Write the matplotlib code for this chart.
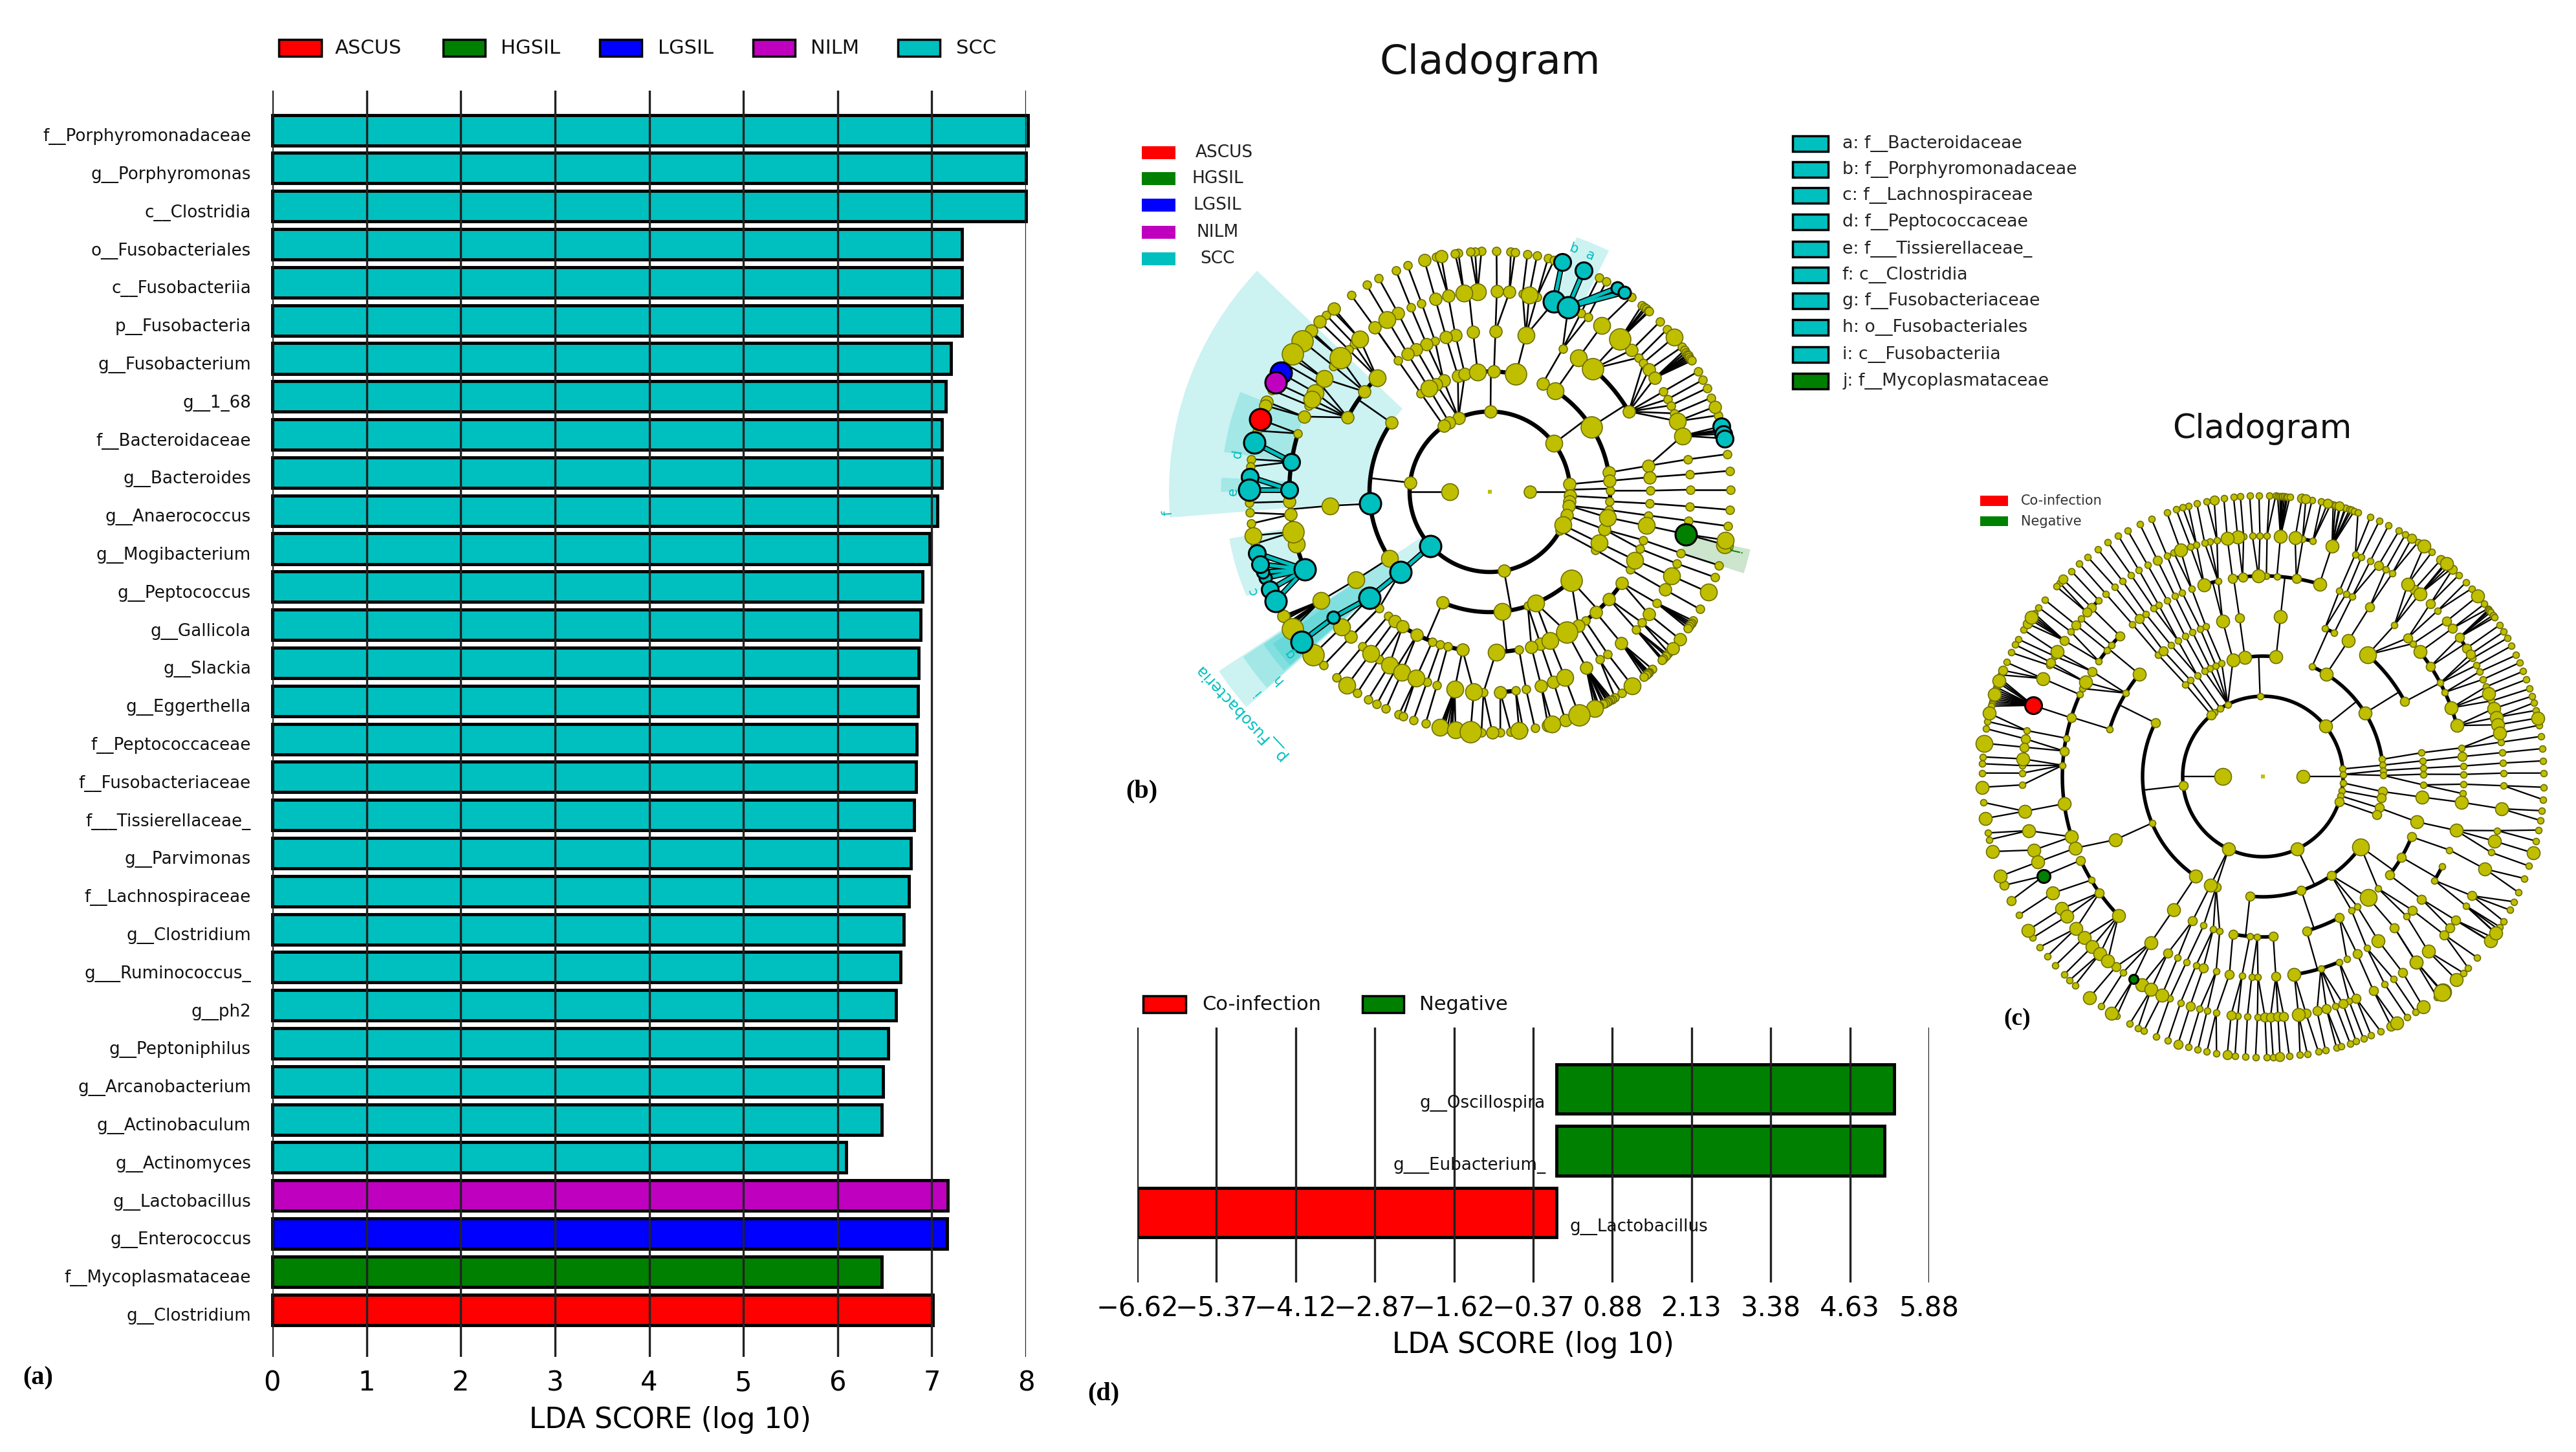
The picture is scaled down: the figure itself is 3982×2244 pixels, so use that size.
import matplotlib
matplotlib.use('Agg')
import matplotlib.pyplot as plt
import numpy as np
from matplotlib.patches import Rectangle, Wedge

W, H = 3982, 2244
RING_PX = 62

RED = '#FF0000'
GREEN = '#008000'
BLUE = '#0000FF'
PURPLE = '#BF00BF'
TEAL = '#00BFBF'
OLIVE = '#BFBF00'

# Panel (a) LDA bars
a_names = ['f__Porphyromonadaceae', 'g__Porphyromonas', 'c__Clostridia', 'o__Fusobacteriales',
           'c__Fusobacteriia', 'p__Fusobacteria', 'g__Fusobacterium', 'g__1_68', 'f__Bacteroidaceae',
           'g__Bacteroides', 'g__Anaerococcus', 'g__Mogibacterium', 'g__Peptococcus', 'g__Gallicola',
           'g__Slackia', 'g__Eggerthella', 'f__Peptococcaceae', 'f__Fusobacteriaceae', 'f___Tissierellaceae_',
           'g__Parvimonas', 'f__Lachnospiraceae', 'g__Clostridium', 'g___Ruminococcus_', 'g__ph2',
           'g__Peptoniphilus', 'g__Arcanobacterium', 'g__Actinobaculum', 'g__Actinomyces', 'g__Lactobacillus',
           'g__Enterococcus', 'f__Mycoplasmataceae', 'g__Clostridium']
a_values = [8.02, 8.0, 8.0, 7.32, 7.32, 7.32, 7.2, 7.15, 7.11, 7.11, 7.06, 6.98, 6.9, 6.88, 6.86, 6.85,
            6.84, 6.83, 6.81, 6.78, 6.76, 6.7, 6.67, 6.62, 6.54, 6.48, 6.47, 6.09, 7.17, 7.16, 6.47, 7.01]
a_groups = ['SCC'] * 28 + ['NILM', 'LGSIL', 'HGSIL', 'ASCUS']
a_ticks = [0, 1, 2, 3, 4, 5, 6, 7, 8]
group_colors = {'ASCUS': RED, 'HGSIL': GREEN, 'LGSIL': BLUE, 'NILM': PURPLE, 'SCC': TEAL}

# Panel (d) LDA bars
d_names = ['g__Oscillospira', 'g___Eubacterium_', 'g__Lactobacillus']
d_values = [5.33, 5.18, -6.62]
d_colors = [GREEN, GREEN, RED]
d_ticks = [-6.62, -5.37, -4.12, -2.87, -1.62, -0.37, 0.88, 2.13, 3.38, 4.63, 5.88]

# Panel (b) cladogram, node angles in degrees per taxonomic ring, split by node size
b_ring1 = {'l': [180], 'm': [0]}
b_ring2 = {'s': [1.5, -29],
           'm': [89.5, 5.4, -3, -7, -10, -17, -79.8, 113, 120.4, 125, 173.5],
           'l': [37, -24.4], 'x': [222.4]}
b_ring3 = {'s': [0.5, -4.6, -8.7, -28.8, -71.6, 125],
           'm': [88, 64, 9.2, 5.2, -18.2, 105.4, 102, 112.6, 116.5, 145, 246.8],
           'l': [57, -12.3, -25, -84, -67.6, 95.8, 120.5, 213.5],
           'x': [77.5, 32.6, -47.5, 185.7, 222]}
b_ring4 = {'s': [63, 0.4, -4.2, -8.5, -17.5, -20.8, -29, -53.5, -79.5, 110, 125, 226.4, 230.7, 249, 252, 254.7],
           'm': [88, 30, 9.3, 5.2, -34.6, -42, -48.7, -56.5, -71.6, -75, 96, 102.4, 105.8, 113.2, 117.3, 120.8,
                 141.4, 152.4, 233.6, 237, 243, 260.2],
           'l': [77, 56.5, -12.2, -25.2, -68, -87.8, 134.7, 185, 213.3],
           'x': [50, -61.2, 221.3]}
b_ring5 = {'s': [80.6, 76.4, 63, 60.7, 42, 40, 30, 27.5, 25.5, 23, 9.3, 5, 0.6, -4.2, -8.3, -17.8, -21, -33.7,
                 -40.7, -43.3, -54, -56.8, -79.6, -82.6, 109.9, 113.2, 125, 132.6, 134.8, 141.2, 147.6, 154.5,
                 163.1, 226.2, 230.5, 236.5, 242, 251.7, 254.7, 268.2],
           'm': [88, 84.4, 45, 37.5, 34.6, -29.2, -37.6, -49, -61.3, -71.5, -75.2, -87, 102, 105.8, 117.2, 125,
                 158, 182.8, 186.5, 218.8, 226.2],
           'l': [78.7, 56, 20.6, 16.2, -24.8, -68, 93.5, 97.4, 120.8, 130.4, 145.7, 150.4, 152.6, 171.4, 179.4,
                 195.2, 212.8, 222.4, 233.6, 239.9, 244, 248.4, 259.9, 265.4],
           'x': [71.3, 67, 49.5, 138.2, 191.5, 202.8, -12.2]}
b_ring6 = {'s': [88.4, 85, 84, 81, 78.7, 76, 74.5, 63, 61, 54, 50.8, 50, 49.5, 48.8, 48.5, 45, 42.5, 37, 36, 35.4,
                 34.8, 34.5, 34, 33.5, 33, 30, 27.7, 25.5, 23, 18.5, 15, 14.5, 9, 5, 0.5, -4.3, -8.2, -17.8, -20.8,
                 -29.2, -32.4, -33, -33.5, -34, -34.6, -42, -42.5, -43, -44, -44.4, -47.5, -48.5, -48.9, -49,
                 -49.5, -50.2, -56.8, -58.7, -59.5, -60, -60.5, -60.8, -61.5, -62, -63, -63.5, -79.2, -82,
                 -85, -87.5, 92, 93.5, 94.6, 97.5, 98.3, 102.9, 110, 113, 117.5, 120.8, 125.2, 131, 132.8, 138.5,
                 146, 148, 155, 165.3, 172.2, 174, 182.6, 185, 187.6, 192.5, 211.5, 212, 213, 213.5, 214, 226.2,
                 230.4, 236.6, 239.6, 242, 244.4, 247.8, 248.9, 251.5, 254.5, 258.5, 259, 259.8, 260.5, 261, 268],
           'm': [58, 56, 20.7, -37.8, -71.7, -76, -89.4, -40.5, 101.7, 105.8, 130.4, 135, 138, 158, 159, 201, 199.5,
                 211],
           'l': [72.5, 67, 40, 15.8, 13.9, 12.8, -12.7, -11.6, -24.7, -53.7, -64.2, -75, -83, 176.4, 194.8, 197.5,
                 204, 233.6, 258, 261.8, 190.5],
           'x': [141.2, 145, 150.4, 153, 162.5, 168.2, 179.5, 207, 214.8, 218.5, 222.7, 265.4, -68.2]}
# Thick sibling arcs (start, end angle) on each ring
b_arcs2 = [(0, 360)]
b_arcs3 = [(-5, 65), (77.5, 95.8), (145, 213.5), (246.8, 312.5)]
b_arcs4 = [(30, 50), (-87.8, -79.5), (-53.5, -34.6), (134.7, 152.4), (230.7, 260.2)]
b_arcs5 = [(163.1, 202.8), (93.5, 97.4), (-87, -82.6)]
b_arcs6 = []
# Highlighted clades
b_scc = [(2, 222.4), (3, 185.7), (3, 222), (4, 221.3), (5, 171.4), (5, 179.4), (5, 202.8), (5, 218.8),
         (5, 71.3), (5, 67), (6, 72.5), (6, 67), (6, 58), (6, 56), (6, 15.8), (6, 13.9), (6, 12.8), (6, 168.2),
         (6, 176.4), (6, 179.5), (6, 194.8), (6, 197.5), (6, 199.5), (6, 201), (6, 204), (6, 207), (6, 218.5)]
b_ascus = [(6, 162.5)]
b_hgsil = [(5, -12.2)]
b_lgsil = [(6, 150.4)]
b_nilm = [(6, 153)]
# Shaded sectors: theta1, theta2, inner ring, outer ring
b_scc_sectors = [(136.5, 184.6, 3, 8.0), (158.2, 171.5, 5, 6.7), (177, 180, 5, 6.7), (190.2, 203.2, 5, 6.6),
                 (63.7, 71.2, 5, 6.7), (213.5, 221.5, 2, 8.1), (213.8, 221.3, 3, 7.4), (214, 221, 4, 6.8),
                 (215, 221, 5, 6.6)]
b_hgsil_sectors = [(-17.8, -12.5, 5, 6.65)]
# Sector letters: letter, angle, ring
b_letters = [('f', 183.8, 8.05), ('d', 171.5, 6.36), ('e', 180, 6.4), ('c', 202.7, 6.4), ('g', 218.8, 6.4),
             ('h', 221.5, 7.06), ('i', 220.7, 7.66), ('b', 71, 6.4), ('a', 67, 6.4)]
b_key = ['a: f__Bacteroidaceae', 'b: f__Porphyromonadaceae', 'c: f__Lachnospiraceae', 'd: f__Peptococcaceae',
         'e: f___Tissierellaceae_', 'f: c__Clostridia', 'g: f__Fusobacteriaceae', 'h: o__Fusobacteriales',
         'i: c__Fusobacteriia', 'j: f__Mycoplasmataceae']

# Panel (c) cladogram
c_ring1 = {'x': [180], 'l': [0]}
c_ring2 = {'s': [92, 116, 122, 127, 5.4, 1.5, -4.6, -10.2, -14],
           'm': [130, -18.2, 186.5], 'l': [38.7, 244.7, -64.5]}
c_ring3 = {'s': [110, 113, 116, 119, 123, 127, 130, 65.9, 8.2, 5.4, 2.9, 0.5, 202.8],
           'm': [153.5, -7.2, -10.3, -15.1, -18.5, 247.1, 263.8, -71.4, -55.3],
           'l': [98.6, 104.4, 83.7, 31.8, 58.2, 236, 244.3], 'x': [-35.7]}
c_ring4 = {'s': [110.8, 113, 116, 119, 122, 125, 130.7, 148.7, 162.8, 67.3, 63.6, 8.5, 5.6, 3, 0.8, 248.3, 252,
                 254.4, 265.3, 268, -54, -56.5, -44.2, -3],
           'm': [98.4, 128.4, 27.8, 259.2, 244, -86.3, -74.2, -61.5, -37.9, -30.2, -22.1],
           'l': [104.5, 140.4, 83.7, 57.8, 203.2, 236.1, -16.4, -7.4], 'x': [49.3, -49]}
c_ring5 = {'s': [91.2, 102.9, 110.8, 113.7, 116, 118.5, 121.3, 123, 125.8, 130.6, 139, 141, 144.9, 154, 155.9, 169,
                 176.8, 86, 89, 67.6, 65.5, 63.6, 49, 41.5, 27.8, 24.8, 8.2, 3, 0.6, 211.1, 244.8, 247.6, 250.5,
                 256.5, 264, 266.8, 268.6, -73.2, -67.6, -65.3, -58.8, -44.2, -31.2, -26.7, -21.5, -4.9, -2.2],
           'm': [95.8, 98.7, 128, 135.5, 148.4, 163, 172.7, 80.4, 57.8, 43.7, 33.3, 5.7, 204.7, 215.4, 241.7, 252.7,
                 260.4, -86.3, -62, -49, -41.8, -37.7],
           'l': [91.3, 107, 152, 73.6, 38.4, 20, 14.7, 187.8, 197.5, 200.9, 223.9, 236, -81, -54.9, -15.6, -7.4]}
c_ring6 = {'s': [90.7, 92.5, 94.6, 101, 102.7, 104, 106, 107.5, 111.7, 113.5, 118.6, 121, 123.2, 125.7, 128, 130.7,
                 133, 139, 143, 150, 152.5, 169, 177.4, 179.2, 89, 80.5, 78, 67.4, 65.8, 63.5, 59.3, 57.5, 43.5,
                 29.4, 27.5, 25.8, 23.8, 21.9, 18.3, 8.2, 5.7, 3.2, 0.8, 182, 234.5, 247.2, 250, 254.8, 256.6,
                 258.8, 264, 266.3, 268.7, -72.4, -69, -59.6, -57.2, -32.5, -2.2, -13, -18.4],
           'm': [116, 135.4, 137, 141, 145.6, 151.7, 171, 173, 61.3, 51, 45.9, 40.2, 38, 35.3, 32.2, 30.5, 232.3,
                 237.4, 252.4, 262.4, -89.5, -88.2, -86.4, -85, -79.7, -77, -74.7, -70.6, -67.2, -62.7, -54.5,
                 -41.1, -39, -36.7, -29.7],
           'l': [96, 98.5, 110, 148.8, 156, 175.8, 85.8, 82.3, 73.3, 53, 49.3, 20.1, 16.4, 14.2, 12.4, 10.4,
                 188.3, 193, 197.8, 200.8, 204.4, 209, 213.3, 215.5, 219.1, 222, 224.9, 227.4, 229.9, 239.9, 242.3,
                 245.2, -81.5, -50.4, -50.5, -46.6, -22.6, -15.6, -7.7],
           'x': [162.8]}
c_ring7 = {'s': [90.8, 92.7, 94.6, 96, 98, 101.5, 103.6, 105.4, 106.6, 108, 110, 113.4, 116, 118.8, 121, 123.5, 126,
                 128.6, 130.8, 133, 136.4, 137.4, 141, 143, 144.5, 145, 146, 148.5, 150.7, 152, 153.8, 156, 158.8,
                 159.5, 160.5, 161.5, 162, 162.5, 163.5, 164, 164.5, 165, 165.5, 168.7, 170.2, 176, 177.4, 179.3,
                 88.7, 87.4, 87, 86.5, 86.2, 86, 85.6, 85.2, 85, 84.5, 79.9, 78, 76, 75.5, 75, 74, 73, 72.8, 72, 71.6,
                 71, 70.2, 67.5, 65.5, 63.4, 61, 59.5, 56.5, 53, 49.5, 48.5, 47.8, 45.8, 43.7, 42, 37.9, 36.7, 36.5,
                 36.2, 35.8, 35, 34.5, 32.6, 31, 29.5, 27.7, 25.6, 23.9, 22, 20.2, 18.2, 16.6, 15.2, 13.6, 10.5, 8.2,
                 5.7, 3.2, 0.7, 185.3, 191.6, 193, 209.6, 215, 217.4, 219.8, 222.3, 224.9, 226.5, 228, 234.9, 238.6,
                 241.7, 243.6, 244.9, 247.7, 250.2, 254.6, 256.6, 258.5, 260.5, 264.3, 266.4, 268.5, -89.2, -87.9,
                 -84.6, -82.4, -80.9, -78.6, -77.1, -74.8, -73.8, -71.9, -70.6, -69, -67.3, -65.2, -59.1, -57, -51.7,
                 -44.4, -43, -40.2, -36, -35, -34, -33, -32.4, -31, -28.4, -26.5, -24.4, -21.3, -18.6, -13.3, -11, -9,
                 -7, -4.7, -2.2],
           'm': [100, 135.4, 147, 157.8, 82, 81.2, 76.7, 74.2, 58, 50.6, 47.5, 202.8, 206.2, 252.4, 262.7, -86.5,
                 -62.8],
           'l': [145.5, 160, 163, 167, 12, 55, 49.2, 40, 182.2, 188.6, 195.5, 200.8, 213.2, 231.9, 237.4, -61.5,
                 -55.2, -46.4, -35.9, -33.9, -15.8],
           'x': [173.2, -50.1, -50.3]}
c_arcs2 = [(0, 360)]
c_arcs3 = [(83.7, 98.6), (153.5, 236), (8, 65.9), (263.8, 324.3)]
c_arcs4 = [(140.4, 162.8), (27.8, 49.3), (259, 273.7), (-74.2, -61.5), (-37.9, -22.1), (63.6, 67.3)]
c_arcs5 = [(163, 197.5), (204.7, 223.9), (155.9, 163), (135.5, 144.9), (73.6, 89), (14.7, 38.4), (-81, -67.6),
           (-31.2, -26.7), (103, 107), (91, 99)]
c_arcs6 = [(133, 137), (78, 80.5), (32, 35)]
c_arcs7 = []
c_coinfection = [(6, 162.8)]
c_negative = [(6, 204.4), (6, 237.4)]


def px_axes(fig, left, top, right, bottom):
    return fig.add_axes([left / W, 1 - bottom / H, (right - left) / W, (bottom - top) / H])


def point(ring, angle):
    return ring * np.cos(np.radians(angle)), ring * np.sin(np.radians(angle))


def on_arc(angle, arcs):
    return any((angle - a) % 360 <= (b - a) for a, b in arcs)


def nearest(angle, candidates):
    return min(candidates, key=lambda c: abs((c - angle + 180) % 360 - 180))


def draw_cladogram(ax, rings, arcs, highlights, diameters, line_px, arc_px):
    lw = line_px * 0.72
    arc_lw = arc_px * 0.72
    colors = {}
    for nodes, color in highlights:
        for node in nodes:
            colors[node] = color

    angles = {lvl: [a for group in ring.values() for a in group] for lvl, ring in rings.items()}
    top = max(rings)
    for lvl in range(2, top + 1):
        for a, b in arcs.get(lvl, []):
            t = np.linspace(a, b, 200)
            ax.plot(*point(lvl, t), color='black', lw=arc_lw, zorder=2, solid_capstyle='butt')
        # parents sitting over an arc only get a short radial stub to it
        for parent in angles[lvl - 1]:
            if on_arc(parent, arcs.get(lvl, [])):
                ax.plot(*zip(point(lvl - 1, parent), point(lvl, parent)), color='black', lw=lw, zorder=2)
        for child in angles[lvl]:
            if on_arc(child, arcs.get(lvl, [])):
                continue
            options = angles[lvl - 1]
            col = colors.get((lvl, child))
            if col:
                marked = [p for p in options if colors.get((lvl - 1, p)) == col
                          and abs((p - child + 180) % 360 - 180) < 12]
                options = marked or options
            parent = nearest(child, options)
            xy = list(zip(point(lvl - 1, parent), point(lvl, child)))
            if col and colors.get((lvl - 1, parent)) == col:
                ax.plot(*xy, color='black', lw=lw * 3.4, zorder=2)
                ax.plot(*xy, color=col, lw=lw * 2, zorder=2.1)
            else:
                ax.plot(*xy, color='black', lw=lw, zorder=2)

    for lvl, ring in rings.items():
        for size, group in ring.items():
            plain = [a for a in group if (lvl, a) not in colors]
            if plain:
                ax.scatter(*point(lvl, np.array(plain)), s=(diameters[size] * 0.72) ** 2, c=OLIVE,
                           edgecolors='#6f6f00', linewidths=1.2, zorder=3 + lvl * 0.01)
    for lvl, ring in rings.items():
        for size, group in ring.items():
            for a in group:
                if (lvl, a) in colors:
                    ax.scatter(*point(lvl, a), s=(diameters[size] * 0.72) ** 2, c=colors[(lvl, a)],
                               edgecolors='black', linewidths=2.2, zorder=4)
    ax.scatter(0, 0, s=14, c=OLIVE, marker='s', linewidths=0, zorder=3)


def draw_sectors(ax, sectors, color):
    for theta1, theta2, inner, outer in sectors:
        ax.add_patch(Wedge((0, 0), outer, theta1, theta2, width=outer - inner, facecolor=color,
                           edgecolor='none', alpha=0.2, zorder=1))


def clado_axes(fig, cx, cy, half_rings):
    half = half_rings * RING_PX
    ax = px_axes(fig, cx - half, cy - half, cx + half, cy + half)
    ax.set_xlim(-half_rings, half_rings)
    ax.set_ylim(-half_rings, half_rings)
    ax.axis('off')
    return ax


def main():
    plt.rcParams['font.family'] = ['DejaVu Sans']
    fig = plt.figure(figsize=(W / 100, H / 100), dpi=100, facecolor='white')

    # (a)
    ax = px_axes(fig, 421, 140, 1586, 2097)
    y = np.arange(len(a_names))
    ax.barh(y, a_values, height=0.8, color=[group_colors[g] for g in a_groups], edgecolor='black',
            linewidth=3.5, zorder=2, clip_on=False)
    ax.set_xlim(0, 8)
    ax.set_ylim(32.24, -1.04)
    ax.set_xticks(a_ticks)
    ax.set_yticks([])
    ax.set_axisbelow(False)
    ax.tick_params(axis='x', length=0, pad=14, labelsize=30)
    ax.grid(axis='x', color='#222222', lw=2.4)
    for spine in ax.spines.values():
        spine.set_visible(False)
    for i, name in enumerate(a_names):
        ax.annotate(name, xy=(0, i), xytext=(-33, -10), textcoords='offset pixels', ha='right', va='center',
                    fontsize=18.8, color='#111111')
    ax.set_xlabel('LDA SCORE (log 10)', fontsize=31.5)
    ax.xaxis.set_label_coords((1036 - 421) / (1586 - 421), -(2195 - 2097) / (2097 - 140))
    ax.xaxis.label.set_verticalalignment('center')

    # (d)
    ax = px_axes(fig, 1758, 1588, 2982, 1982)
    y = np.array([2, 1, 0])
    ax.barh(y, d_values, height=0.8, color=d_colors, edgecolor='black', linewidth=3.5, zorder=2)
    ax.set_xlim(d_ticks[0], d_ticks[-1])
    ax.set_ylim(-1.13, 2.995)
    ax.set_xticks(d_ticks)
    ax.set_xticklabels([('\u2212' if v < 0 else '') + '%.2f' % abs(v) for v in d_ticks])
    ax.set_yticks([])
    ax.set_axisbelow(False)
    ax.tick_params(axis='x', length=0, pad=14, labelsize=30)
    ax.grid(axis='x', color='#222222', lw=2.4)
    for spine in ax.spines.values():
        spine.set_visible(False)
    for pos, name, value in zip(y, d_names, d_values):
        ax.annotate(name, xy=(0, pos), xytext=(-17 if value > 0 else 20, -22), textcoords='offset pixels',
                    ha='right' if value > 0 else 'left', va='center', fontsize=18.8, color='#111111', zorder=4)
    ax.set_xlabel('LDA SCORE (log 10)', fontsize=31.5)
    ax.xaxis.set_label_coords(0.5, -(2079 - 1982) / (1982 - 1588))
    ax.xaxis.label.set_verticalalignment('center')

    # (b)
    ax = clado_axes(fig, 2303, 760, 8.5)
    draw_sectors(ax, b_scc_sectors, TEAL)
    draw_sectors(ax, b_hgsil_sectors, GREEN)
    draw_cladogram(ax,
                   {1: b_ring1, 2: b_ring2, 3: b_ring3, 4: b_ring4, 5: b_ring5, 6: b_ring6},
                   {2: b_arcs2, 3: b_arcs3, 4: b_arcs4, 5: b_arcs5, 6: b_arcs6},
                   [(b_scc, TEAL), (b_ascus, RED), (b_hgsil, GREEN), (b_lgsil, BLUE), (b_nilm, PURPLE)],
                   {'s': 13, 'm': 19, 'l': 26, 'x': 33}, 2.6, 6.5)
    for letter, angle, ring in b_letters:
        ax.text(*point(ring, angle), letter, color=TEAL, fontsize=15, rotation=angle - 90,
                ha='center', va='center', rotation_mode='anchor', zorder=5)
    ax.text(*point(6.3, -13.3), 'j', color=GREEN, fontsize=15, rotation=-103, ha='center', va='center', zorder=5)
    ax.text(*point(8.3, 221.4), 'p__Fusobacteria', color=TEAL, fontsize=17.5, rotation=133,
            ha='center', va='center', rotation_mode='anchor', zorder=5)

    # (c)
    ax = clado_axes(fig, 3498, 1200, 7.6)
    draw_cladogram(ax,
                   {1: c_ring1, 2: c_ring2, 3: c_ring3, 4: c_ring4, 5: c_ring5, 6: c_ring6, 7: c_ring7},
                   {2: c_arcs2, 3: c_arcs3, 4: c_arcs4, 5: c_arcs5, 6: c_arcs6, 7: c_arcs7},
                   [(c_coinfection, RED), (c_negative, GREEN)],
                   {'s': 10, 'm': 14, 'l': 20, 'x': 26}, 2.3, 5.5)

    # Legends, titles and panel letters are placed in figure pixels
    ov = fig.add_axes([0, 0, 1, 1], facecolor='none', zorder=10)
    ov.set_xlim(0, W)
    ov.set_ylim(H, 0)
    ov.axis('off')

    def swatch(x0, x1, y0, y1, color, edge='black', lw=2.5):
        ov.add_patch(Rectangle((x0, y0), x1 - x0, y1 - y0, facecolor=color, edgecolor=edge, linewidth=lw))

    # legend over (a)
    a_legend = [('ASCUS', 431, 497, 518), ('HGSIL', 685, 750, 774), ('LGSIL', 927, 992, 1017),
                ('NILM', 1164, 1229, 1253), ('SCC', 1388, 1453, 1478)]
    for name, x0, x1, tx in a_legend:
        swatch(x0, x1, 61, 87, group_colors[name])
        ov.text(tx, 74, name, fontsize=22, va='center', color='#111111')

    # legend over (d)
    swatch(1767, 1833, 1539, 1565, RED)
    ov.text(1858, 1552, 'Co-infection', fontsize=22, va='center', color='#111111')
    swatch(2106, 2170, 1539, 1565, GREEN)
    ov.text(2194, 1552, 'Negative', fontsize=22, va='center', color='#111111')

    # legends of (b)
    b_legend = [('ASCUS', 236), ('HGSIL', 276), ('LGSIL', 317), ('NILM', 359), ('SCC', 400)]
    for name, yc in b_legend:
        swatch(1765, 1817, yc - 10, yc + 10, group_colors[name], edge='none', lw=0)
        ov.text(1892 if name == 'ASCUS' else 1882, yc, name, fontsize=19, va='center', ha='center',
                color='#222222')
    key_y = [222, 262, 302, 343, 385, 425, 465, 506, 548, 589]
    for text, yc in zip(b_key, key_y):
        swatch(2771, 2826, yc - 12, yc + 12, GREEN if text.startswith('j') else TEAL)
        ov.text(2848, yc, text, fontsize=19.3, va='center', color='#222222')

    # legend of (c)
    swatch(3061, 3104, 766, 782, RED, edge='none', lw=0)
    ov.text(3124, 774, 'Co-infection', fontsize=15, va='center', color='#333333')
    swatch(3061, 3104, 798, 813, GREEN, edge='none', lw=0)
    ov.text(3124, 806, 'Negative', fontsize=15, va='center', color='#333333')

    ov.text(2303, 97, 'Cladogram', fontsize=45, ha='center', va='center', color='#111111')
    ov.text(3497, 663, 'Cladogram', fontsize=36.5, ha='center', va='center', color='#111111')

    for letter, x, yc, size in [('(a)', 59, 2130, 29), ('(b)', 1765, 1223, 29), ('(c)', 3118, 1574, 27),
                                ('(d)', 1706, 2154, 29)]:
        ov.text(x, yc, letter, fontsize=size, fontweight='bold', family='Liberation Serif',
                ha='center', va='center', color='black')

    fig.savefig('out.png', dpi=100)


if __name__ == '__main__':
    main()
